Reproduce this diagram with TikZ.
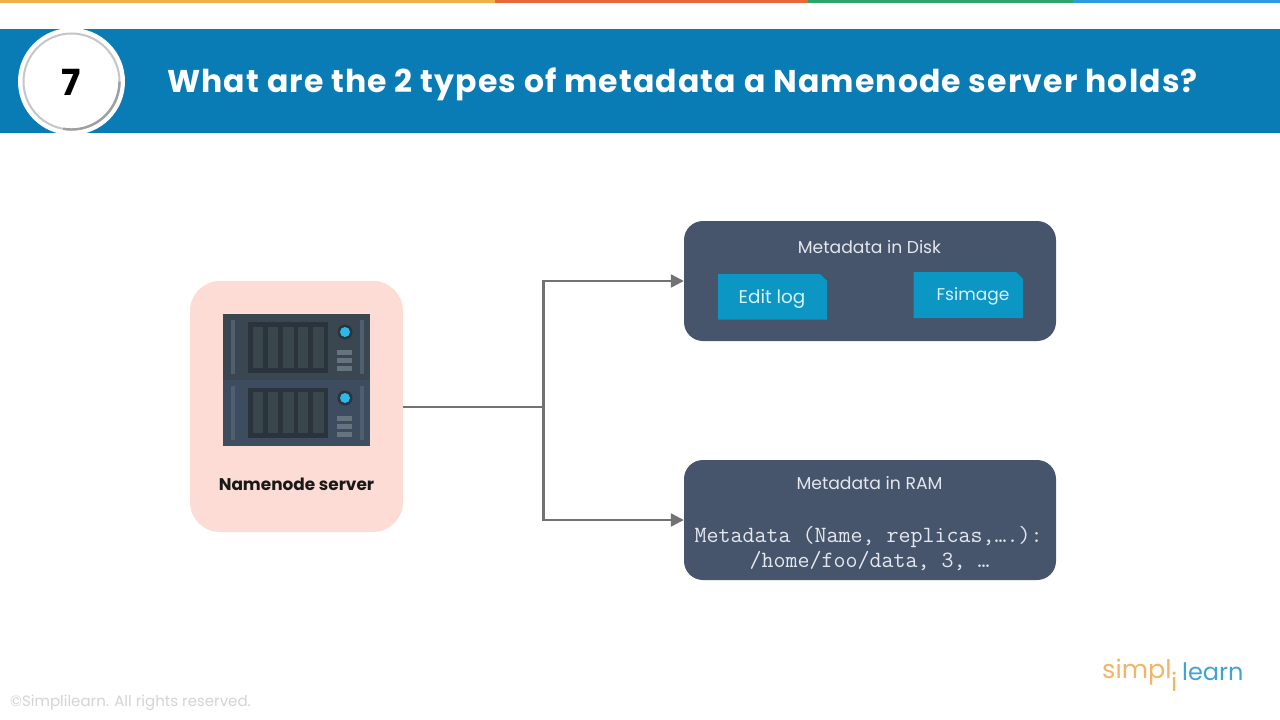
\documentclass[tikz,border=0pt]{standalone}
\usepackage{fontspec}
\setmainfont{Poppins}
\usetikzlibrary{arrows.meta}
\definecolor{hdr}{HTML}{0A7CB5}
\definecolor{slate}{HTML}{46546C}
\definecolor{pinkbox}{HTML}{FDDCD5}
\definecolor{tabc}{HTML}{0B96C4}
\definecolor{linec}{HTML}{727272}
\definecolor{srv}{HTML}{3A4650}
\definecolor{srvb}{HTML}{3E4C60}
\definecolor{panel}{HTML}{2B343C}
\definecolor{slotc}{HTML}{39474D}
\definecolor{stripc}{HTML}{4E6070}
\definecolor{barc}{HTML}{667480}
\definecolor{ledc}{HTML}{2DB8EA}
\definecolor{lighttxt}{HTML}{E4E8EE}
\definecolor{tabtxt}{HTML}{D8F2FA}
\definecolor{logoor}{HTML}{F2B566}
\definecolor{logobl}{HTML}{3FA3D6}
\definecolor{stripa}{HTML}{F2B04A}
\definecolor{stripb}{HTML}{E8683A}
\definecolor{stripg}{HTML}{2FA46A}
\definecolor{stripl}{HTML}{2E9BE0}
\newcommand{\fsz}[1]{\fontsize{#1}{#1}\selectfont}
\tikzset{
  x=1pt,y=-1pt,
  bigbox/.style={draw=none,fill=slate,rounded corners=19pt,minimum width=372pt,minimum height=120pt,inner sep=0pt},
  tabshape/.style={fill=tabc},
  tabtext/.style={inner sep=0pt,text=tabtxt},
  boxtitle/.style={text=lighttxt,inner sep=0pt,font=\fsz{17.2}},
  monotxt/.style={text=lighttxt,inner sep=0pt,font=\ttfamily\fsz{23.3}},
  conn/.style={draw=linec,line width=2.4pt},
  connarrow/.style={conn,-{Triangle[length=13pt,width=13pt]}},
}
\begin{document}
\begin{tikzpicture}
\useasboundingbox (0,0) rectangle (1280,720);
\fill[white] (0,0) rectangle (1280,720);
% top strip
\fill[stripa] (0,0) rectangle (495,3);
\fill[stripb] (495,0) rectangle (808,3);
\fill[stripg] (808,0) rectangle (1073,3);
\fill[stripl] (1073,0) rectangle (1280,3);
% header
\fill[hdr] (0,29) rectangle (1280,133);
\node[circle,fill=white,minimum size=107pt,inner sep=0pt] (badge) at (71.5,81.5) {};
\draw[gray!45,line width=2pt] (71.5,81.5) circle (48);
\draw[gray!75,line width=2.4pt] (119.5,81.5) arc (0:100:48);
\node[inner sep=0pt,font=\bfseries\fsz{36}] (num) at (71,82) {7};
\node[inner sep=0pt,text=white,font=\bfseries\fsz{31.5}\addfontfeatures{LetterSpace=3.6}] (title) at (682.5,84.5) {What are the 2 types of metadata a Namenode server holds?};
% server box
\node[fill=pinkbox,rounded corners=30pt,minimum width=213pt,minimum height=251pt,inner sep=0pt] (server) at (296.5,406.5) {};
\fill[srv] (223,314) rectangle (370,380);
\fill[srvb] (223,380) rectangle (370,446);
\foreach \ya/\yb/\sa/\sb/\la/\ba/\bb/\bc in {322/373/327/368/320/350/358/366, 388/438/392/433/386/416/424/432}{
  \fill[panel] (248,\ya) rectangle (328,\yb);
  \foreach \xa/\xb in {253/263,268/278,283/294,298/308,313/324}
    \fill[slotc] (\xa,\sa) rectangle (\xb,\sb);
  \fill[stripc] (231,\la) rectangle (235,\la+54);
  \fill[stripc] (360,\la) rectangle (364,\la+54);
  \fill[barc] (337,\ba) rectangle (352,\ba+4.5);
  \fill[barc] (337,\bb) rectangle (352,\bb+4.5);
  \fill[barc] (337,\bc) rectangle (352,\bc+4.5);
}
\fill[panel] (345,332) circle (7.5);
\fill[ledc] (345,332) circle (5);
\fill[panel] (345,398) circle (7.5);
\fill[ledc] (345,398) circle (5);
\node[inner sep=0pt,text=black!90,font=\bfseries\fsz{16.9}] (srvlabel) at (296.5,484) {Namenode server};
% right boxes
\node[bigbox] (disk) at (870,281) {};
\node[bigbox] (ram) at (870,520) {};
\node[boxtitle] (disktitle) at (869.5,247) {Metadata in Disk};
\fill[tabshape] (718,274) -- (820,274) -- (827,281) -- (827,319.5) -- (718,319.5) -- cycle;
\fill[tabshape] (913.5,272) -- (1016,272) -- (1023,279) -- (1023,318) -- (913.5,318) -- cycle;
\node[tabtext,font=\fsz{18.4}] (editlabel) at (772,298.5) {Edit log};
\node[tabtext,font=\fsz{17}] (fsimagelabel) at (973,296.5) {Fsimage};
\node[boxtitle] (ramtitle) at (869.5,483) {Metadata in RAM};
\node[monotxt] (mono1) at (868.5,537) {Metadata (Name, replicas,….):};
\node[monotxt] (mono2) at (869.5,561) {/home/foo/data, 3, …};
% connectors
\coordinate (jun) at (543.5,407);
\draw[conn] (server.east |- jun) -- (jun);
\draw[connarrow] (jun) |- (disk.west);
\draw[connarrow] (jun) |- (ram.west);
% footer
\node[anchor=west,inner sep=0pt,text=black!17,font=\fsz{15}] (copy) at (10,703) {©Simplilearn. All rights reserved.};
\node[anchor=west,inner sep=0pt,text=logoor,font=\fsz{25.5}] (logoa) at (1102,672) {simpl};
\node[anchor=west,inner sep=0pt,text=logoor,font=\fsz{25.5}] (logob) at (1171,682) {i};
\node[anchor=west,inner sep=0pt,text=logobl,font=\fsz{24}] (logoc) at (1182,672) {learn};
\end{tikzpicture}
\end{document}
